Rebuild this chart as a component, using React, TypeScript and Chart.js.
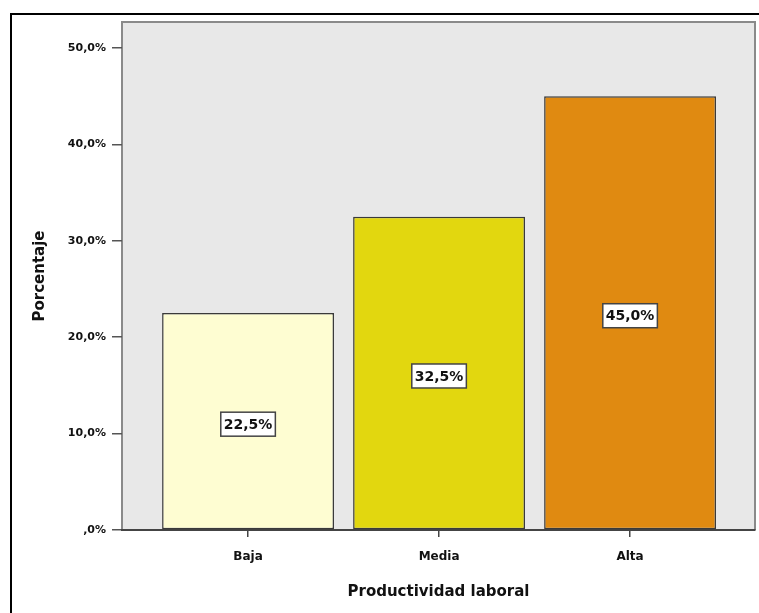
import React, { useEffect, useRef } from "react";
import { Chart, registerables } from "chart.js";

Chart.register(...registerables);

const categories = ["Baja", "Media", "Alta"];
const percentages = [22.5, 32.5, 45.0];
const barColors = ["#fefdd2", "#e2d70f", "#e08a11"];
const yTickValues = [0, 10, 20, 30, 40, 50];
const yAxisTitle = "Porcentaje";
const xAxisTitle = "Productividad laboral";

const fmtPct = (v: number) => {
  if (v === 0) return ",0%";
  return v.toFixed(1).replace(".", ",") + "%";
};

const frame = {
  id: "frame",
  beforeDraw(chart: any) {
    const { ctx, chartArea: a } = chart;
    ctx.save();
    ctx.fillStyle = "#ffffff";
    ctx.fillRect(0, 0, chart.width, chart.height);
    ctx.strokeStyle = "#000000";
    ctx.lineWidth = 2;
    ctx.beginPath();
    ctx.moveTo(11, chart.height);
    ctx.lineTo(11, 14);
    ctx.lineTo(chart.width, 14);
    ctx.stroke();
    ctx.fillStyle = "#e8e8e8";
    ctx.fillRect(a.left, a.top, a.right - a.left, a.bottom - a.top);
    ctx.strokeStyle = "#8a8a8a";
    ctx.lineWidth = 2;
    ctx.beginPath();
    ctx.moveTo(a.left, a.bottom);
    ctx.lineTo(a.left, a.top);
    ctx.lineTo(a.right, a.top);
    ctx.lineTo(a.right, a.bottom);
    ctx.stroke();
    ctx.restore();
  },
};

const valueLabels = {
  id: "valueLabels",
  afterDatasetsDraw(chart: any) {
    const { ctx } = chart;
    const meta = chart.getDatasetMeta(0);
    ctx.save();
    ctx.font = "bold 14px 'DejaVu Sans'";
    ctx.textAlign = "center";
    ctx.textBaseline = "middle";
    meta.data.forEach((bar: any, i: number) => {
      const text = fmtPct(percentages[i]);
      const cx = bar.x;
      const cy = (bar.y + bar.base) / 2 + 3;
      const w = ctx.measureText(text).width + 6;
      const h = 24;
      ctx.fillStyle = "#ffffff";
      ctx.fillRect(cx - w / 2, cy - h / 2, w, h);
      ctx.strokeStyle = "#444444";
      ctx.lineWidth = 1.5;
      ctx.strokeRect(cx - w / 2, cy - h / 2, w, h);
      ctx.fillStyle = "#111111";
      ctx.fillText(text, cx, cy + 1);
    });
    ctx.restore();
  },
};

export default function App() {
  const ref = useRef<HTMLCanvasElement>(null);
  useEffect(() => {
    if (!ref.current) return;
    const chart = new Chart(ref.current, {
      type: "bar",
      data: {
        datasets: [
          {
            data: percentages.map((v, i) => ({ x: i, y: v })),
            backgroundColor: barColors,
            borderColor: "#3a3a3a",
            borderWidth: 1.5,
            borderSkipped: false,
            barPercentage: 1,
            categoryPercentage: 0.9,
          },
        ],
      },
      options: {
        responsive: false,
        animation: false,
        layout: { padding: { left: 0, top: 22, right: 4, bottom: 0 } },
        plugins: { legend: { display: false }, tooltip: { enabled: false } },
        scales: {
          x: {
            type: "linear",
            offset: false,
            min: -0.66,
            max: 2.654,
            afterBuildTicks: (s: any) => {
              s.ticks = categories.map((_, i) => ({ value: i }));
            },
            afterFit: (s: any) => {
              s.height = 83;
            },
            ticks: {
              callback: (v: any) => categories[Math.round(v)] ?? "",
              color: "#111111",
              font: { family: "'DejaVu Sans'", size: 12, weight: "bold" },
              padding: 13,
              maxRotation: 0,
            },
            grid: {
              offset: false,
              drawOnChartArea: false,
              tickLength: 7,
              color: "#444444",
              lineWidth: 1.5,
            },
            border: { display: true, color: "#444444", width: 2 },
            title: {
              display: true,
              text: xAxisTitle,
              color: "#111111",
              font: { family: "'DejaVu Sans'", size: 15, weight: "bold" },
              padding: { top: 0, bottom: 12 },
            },
          },
          y: {
            min: 0,
            max: 52.7,
            afterBuildTicks: (s: any) => {
              s.ticks = yTickValues.map((v) => ({ value: v }));
            },
            afterFit: (s: any) => {
              s.width = 122;
            },
            ticks: {
              callback: (v: any) => fmtPct(Number(v)),
              color: "#111111",
              font: { family: "'DejaVu Sans'", size: 11, weight: "bold" },
              padding: 6,
            },
            grid: {
              drawOnChartArea: false,
              tickLength: 10,
              color: "#555555",
              lineWidth: 1.5,
            },
            border: { display: false },
            title: {
              display: true,
              text: yAxisTitle,
              color: "#111111",
              font: { family: "'DejaVu Sans'", size: 15, weight: "bold" },
              padding: { top: 31, bottom: 0 },
            },
          },
        },
      },
      plugins: [frame, valueLabels],
    });
    return () => chart.destroy();
  }, []);
  return (
    <div style={{ position: "fixed", left: 0, top: 0, width: 759, height: 613 }}>
      <canvas ref={ref} width={759} height={613} />
    </div>
  );
}
